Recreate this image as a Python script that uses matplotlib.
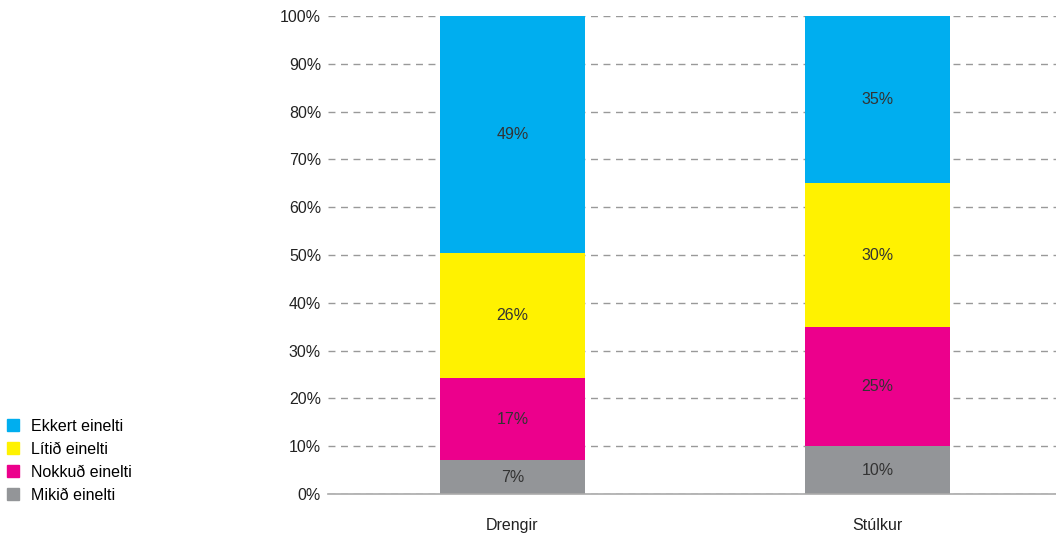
import numpy as np
import matplotlib
matplotlib.use('Agg')
import matplotlib.pyplot as plt
from matplotlib.patches import Patch

plt.rcParams['font.family'] = ['Liberation Sans', 'DejaVu Sans']

groups = ['Drengir', 'Stúlkur']
series = ['Mikið einelti', 'Nokkuð einelti', 'Lítið einelti', 'Ekkert einelti']
values = {
    'Mikið einelti':  [7, 10],
    'Nokkuð einelti': [17, 25],
    'Lítið einelti':  [26, 30],
    'Ekkert einelti': [49, 35],
}
colors = {
    'Mikið einelti':  '#939598',
    'Nokkuð einelti': '#EC008C',
    'Lítið einelti':  '#FFF200',
    'Ekkert einelti': '#00AEEF',
}
yticks = np.arange(0, 101, 10)

fs = 11.5
fig = plt.figure(figsize=(10.56, 5.35), dpi=100)
ax = fig.add_axes([0.3106, 0.0766, 0.6894, 0.8934])

x = np.arange(len(groups))
totals = np.sum([values[s] for s in series], axis=0)
bottom = np.zeros(len(groups))
for s in series:
    v = np.array(values[s], dtype=float)
    h = v / totals * 100  # stacked shares fill the full bar
    ax.bar(x, h, 0.397, bottom=bottom, color=colors[s], zorder=3)
    for xi, b, hi, lab in zip(x, bottom, h, v):
        ax.text(xi, b + hi / 2, f'{lab:.0f}%', ha='center', va='center',
                fontsize=fs, color='#333333', zorder=4)
    bottom += h

ax.set_xlim(-0.505, 1.489)
ax.set_ylim(0, 100)
ax.set_yticks(yticks)
ax.set_yticklabels([f'{t}%' for t in yticks], fontsize=fs, color='#222222')
ax.set_xticks(x)
ax.set_xticklabels(groups, fontsize=fs, color='#222222')
ax.tick_params(axis='y', length=0, pad=5)
ax.tick_params(axis='x', length=0, pad=17)
ax.grid(axis='y', color='#999999', ls=(0, (5, 4)), lw=1, zorder=0)
ax.set_axisbelow(True)
for side in ['top', 'right', 'left']:
    ax.spines[side].set_visible(False)
ax.spines['bottom'].set_color('#aaaaaa')
ax.spines['bottom'].set_linewidth(1.2)
ax.spines['bottom'].set_zorder(5)

handles = [Patch(color=colors[s], label=s) for s in series[::-1]]
fig.legend(handles=handles, loc='upper left', bbox_to_anchor=(-0.002, 0.235),
           frameon=False, fontsize=fs, handlelength=0.75, handleheight=0.75,
           handletextpad=0.75, labelspacing=0.5, borderaxespad=0.2)

fig.savefig('out.png', dpi=100)
